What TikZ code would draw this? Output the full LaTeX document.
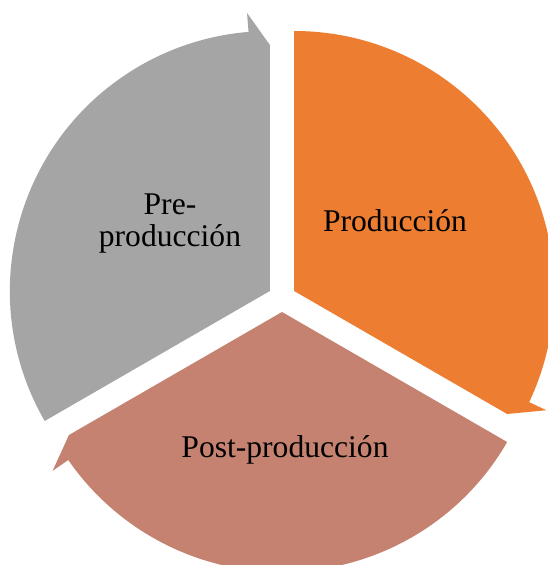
\documentclass[tikz,border=0pt]{standalone}
\usepackage{fontspec}
\setmainfont{Liberation Serif}
\usetikzlibrary{calc}

\definecolor{preGray}{HTML}{A5A5A5}
\definecolor{prodOrange}{HTML}{ED7D31}
\definecolor{postBrown}{HTML}{C58270}

\begin{document}
\begin{tikzpicture}[x=1pt, y=1pt,
    label text/.style={inner sep=0pt, font=\fontsize{31.6}{32}\selectfont, align=center}]
    %% Production cycle

    % Params
    \def\R{260}
    \def\Rout{279}
    \def\Rtip{246}
    \def\dA{4.7}
    \def\gap{14}

    % Frame
    \useasboundingbox (0,0) rectangle (548,565);
    \clip (0,0) rectangle (548,565);

    % Coords
    \coordinate (O) at (282,267);
    \coordinate (Vpre) at ($(O)+(150:\gap)$);
    \coordinate (Vprod) at ($(O)+(30:\gap)$);
    \coordinate (Vpost) at ($(O)+(270:\gap)$);

    % Segments
    \fill[preGray] (Vpre) -- ++(210:\R) arc[start angle=210, end angle=90+\dA, radius=\R]
        -- ($(Vpre)+(90+\dA:\Rout)$) -- ($(Vpre)+(90:\Rtip)$) -- cycle;
    \fill[prodOrange] (Vprod) -- ++(90:\R) arc[start angle=90, end angle=-30+\dA, radius=\R]
        -- ($(Vprod)+(-30+\dA:\Rout)$) -- ($(Vprod)+(-30:\Rtip)$) -- cycle;
    \fill[postBrown] (Vpost) -- ++(-30:\R) arc[start angle=-30, end angle=-150+\dA, radius=\R]
        -- ($(Vpost)+(-150+\dA:\Rout)$) -- ($(Vpost)+(-150:\Rtip)$) -- cycle;

    % Labels
    \node[label text] (pre) at (170,341) {Pre-\\producción};
    \node[label text, anchor=base] (prod) at (395,333) {Producción};
    \node[label text, anchor=base] (post) at (285,107) {Post-producción};

\end{tikzpicture}
\end{document}
